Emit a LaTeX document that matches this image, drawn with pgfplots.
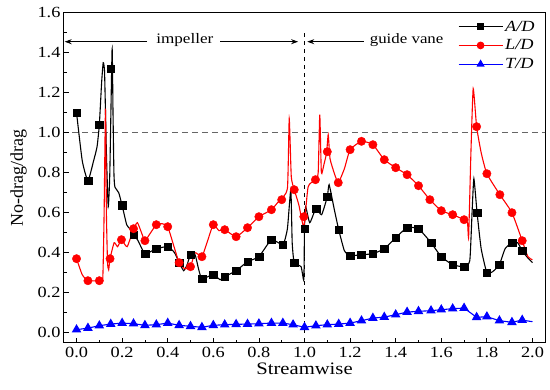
\documentclass[border=0pt]{standalone}
\usepackage{fontspec}
\setmainfont{Liberation Serif}[FakeStretch=1.18]
\newfontfamily\rotfont{Liberation Serif}
\usepackage{pgfplots}
\pgfplotsset{compat=1.18}
\usetikzlibrary{arrows.meta}
\begin{document}
\begin{tikzpicture}
\begin{axis}[
  name=ax,
  scale only axis, width=481pt, height=330pt,
  xmin=-0.055, xmax=2.055, ymin=-0.05, ymax=1.6,
  xtick={0,0.2,...,2.0}, ytick={0,0.2,...,1.6},
  minor x tick num=1, minor y tick num=1,
  xtick pos=bottom, ytick pos=left, tick align=inside,
  major tick length=5pt, minor tick length=3pt,
  axis line style={line width=1pt}, tick style={line width=0.8pt, black},
  /pgf/number format/assume math mode=true,
  /pgf/number format/fixed, /pgf/number format/fixed zerofill, /pgf/number format/precision=1,
  tick label style={font=\fontsize{15.5}{15.5}\selectfont},
  xticklabel style={yshift=-1pt},
  xlabel={Streamwise}, ylabel={\rotfont No-drag/drag},
  xlabel style={font=\fontsize{17.5}{17.5}\selectfont, yshift=2pt},
  ylabel style={font=\fontsize{18}{18}\selectfont, yshift=4pt},
  legend style={draw=none, fill=none, at={(0.985,0.985)}, anchor=north east, font=\fontsize{15.5}{15.5}\selectfont, row sep=3pt, inner sep=1pt},
  legend cell align=left,
  legend image code/.code={\draw[mark repeat=2, mark phase=2, #1] plot coordinates {(0pt,0pt) (22pt,0pt) (44pt,0pt)};},
]
% reference lines
\addplot[gray!80!black, line width=0.9pt, dash pattern=on 6pt off 4pt, forget plot] coordinates {(-0.02,1.0) (2.06,1.0)};
\addplot[black, line width=0.9pt, dash pattern=on 4pt off 4pt, forget plot] coordinates {(1.0,0.0) (1.0,1.5)};
% A/D
\addplot[black, line width=1.1pt, smooth, tension=0.3, forget plot] coordinates {
(0.00,1.10) (0.025,0.86) (0.05,0.76) (0.075,0.86) (0.09,0.93) (0.10,1.04) (0.11,1.25) (0.117,1.35) (0.123,1.30)
(0.131,0.90) (0.139,0.63) (0.146,0.80) (0.156,1.42) (0.160,1.10) (0.164,0.80) (0.168,0.73) (0.185,0.70) (0.20,0.636)
(0.22,0.54) (0.234,0.52) (0.25,0.49) (0.27,0.46) (0.30,0.395) (0.35,0.42) (0.40,0.43) (0.43,0.40) (0.45,0.35)
(0.47,0.31) (0.485,0.34) (0.50,0.39) (0.52,0.39) (0.535,0.32) (0.55,0.27) (0.60,0.29) (0.63,0.265) (0.65,0.28)
(0.70,0.31) (0.75,0.355) (0.80,0.38) (0.855,0.465) (0.905,0.44) (0.925,0.52) (0.94,0.715) (0.946,0.45) (0.955,0.35)
(0.985,0.33) (0.997,0.265) (1.0,0.52) (1.005,0.63) (1.023,0.55) (1.05,0.62) (1.075,0.59) (1.10,0.68) (1.108,0.74)
(1.13,0.62) (1.15,0.515) (1.175,0.41) (1.20,0.385) (1.25,0.39) (1.30,0.395) (1.35,0.42) (1.40,0.475)
(1.45,0.525) (1.50,0.52) (1.555,0.45) (1.60,0.38) (1.65,0.34) (1.70,0.33) (1.725,0.36) (1.735,0.60) (1.743,0.77)
(1.757,0.60) (1.775,0.42) (1.80,0.30) (1.825,0.305) (1.855,0.34) (1.88,0.42) (1.91,0.45) (1.935,0.45) (1.955,0.41)
(1.975,0.38) (2.0,0.35)};
\addplot[black, only marks, mark=square*, mark size=3.8pt, forget plot] coordinates {
(0.00,1.10) (0.05,0.76) (0.10,1.04) (0.15,1.32) (0.20,0.636) (0.25,0.49) (0.30,0.395) (0.35,0.42) (0.40,0.43)
(0.45,0.35) (0.50,0.39) (0.55,0.27) (0.60,0.29) (0.65,0.28) (0.70,0.31) (0.75,0.355) (0.80,0.38) (0.855,0.465)
(0.905,0.44) (0.955,0.35) (1.0,0.52) (1.05,0.62) (1.10,0.68) (1.15,0.515) (1.20,0.385) (1.25,0.39) (1.30,0.395)
(1.35,0.42) (1.40,0.475) (1.45,0.525) (1.50,0.52) (1.555,0.45) (1.60,0.38) (1.65,0.34) (1.70,0.33) (1.757,0.60)
(1.80,0.30) (1.855,0.34) (1.91,0.45) (1.955,0.41)};
% L/D
\addplot[red, line width=1.1pt, smooth, tension=0.3, forget plot] coordinates {
(0.00,0.37) (0.025,0.29) (0.05,0.26) (0.10,0.26) (0.115,0.27) (0.121,0.60) (0.127,1.12) (0.131,0.60) (0.136,0.35)
(0.141,0.315) (0.147,0.37) (0.165,0.45) (0.18,0.43) (0.197,0.465) (0.222,0.43) (0.25,0.52) (0.267,0.55) (0.285,0.50) (0.30,0.46)
(0.325,0.50) (0.35,0.54) (0.375,0.545) (0.40,0.53) (0.425,0.44) (0.45,0.35) (0.475,0.32) (0.50,0.33) (0.52,0.40)
(0.55,0.38) (0.575,0.46) (0.60,0.54) (0.625,0.51) (0.65,0.515) (0.70,0.48) (0.75,0.525) (0.80,0.58) (0.855,0.615)
(0.892,0.665) (0.925,0.72) (0.933,1.07) (0.942,0.78) (0.955,0.715) (0.975,0.64) (0.997,0.53) (1.016,0.73)
(1.048,0.765) (1.06,0.80) (1.067,1.09) (1.074,0.80) (1.085,0.84) (1.097,0.90) (1.104,0.99) (1.112,0.87)
(1.13,0.80) (1.148,0.75) (1.175,0.82) (1.20,0.915) (1.25,0.957) (1.30,0.94) (1.35,0.865) (1.40,0.825) (1.45,0.79)
(1.50,0.735) (1.55,0.665) (1.60,0.61) (1.65,0.59) (1.70,0.565) (1.715,0.55) (1.72,0.48) (1.73,0.90) (1.74,1.22)
(1.755,1.03) (1.775,0.90) (1.80,0.795) (1.857,0.69) (1.91,0.60) (1.955,0.46) (1.98,0.38) (2.0,0.365)};
\addplot[red, only marks, mark=*, mark size=4.2pt, forget plot] coordinates {
(0.00,0.37) (0.05,0.26) (0.10,0.26) (0.147,0.37) (0.197,0.465) (0.25,0.52) (0.30,0.46) (0.35,0.54) (0.40,0.53)
(0.45,0.35) (0.50,0.33) (0.55,0.38) (0.60,0.54) (0.65,0.515) (0.70,0.48) (0.75,0.525) (0.80,0.58) (0.855,0.615)
(0.90,0.665) (0.955,0.715) (0.997,0.58) (1.048,0.765) (1.10,0.905) (1.148,0.75) (1.20,0.915) (1.25,0.957) (1.30,0.94)
(1.35,0.865) (1.40,0.825) (1.45,0.79) (1.50,0.735) (1.55,0.665) (1.60,0.61) (1.65,0.59) (1.70,0.565) (1.755,1.03)
(1.80,0.795) (1.857,0.69) (1.91,0.60) (1.955,0.46)};
% T/D
\addplot[blue, line width=1.1pt, mark=triangle*, mark size=4.5pt, forget plot] coordinates {
(0.00,0.015) (0.05,0.023) (0.10,0.035) (0.15,0.043) (0.20,0.048) (0.25,0.045) (0.30,0.037) (0.35,0.04) (0.40,0.048)
(0.45,0.037) (0.50,0.032) (0.55,0.027) (0.60,0.037) (0.65,0.04) (0.70,0.042) (0.75,0.043) (0.80,0.045) (0.855,0.048)
(0.905,0.048) (0.95,0.04) (1.0,0.027) (1.05,0.035) (1.10,0.04) (1.15,0.043) (1.20,0.048) (1.25,0.06) (1.30,0.073)
(1.35,0.078) (1.40,0.09) (1.45,0.103) (1.50,0.107) (1.555,0.11) (1.60,0.115) (1.65,0.12) (1.70,0.123) (1.755,0.077)
(1.80,0.08) (1.855,0.06) (1.91,0.052) (1.955,0.063)};
\addplot[blue, line width=1.1pt, forget plot] coordinates {(1.955,0.063) (2.0,0.055)};
% legend
\addlegendimage{black, line width=1.1pt, mark=square*, mark size=2.8pt}
\addlegendentry{\textit{A/D}}
\addlegendimage{red, line width=1.1pt, mark=*, mark size=3.3pt}
\addlegendentry{\textit{L/D}}
\addlegendimage{blue, line width=1.1pt, mark=triangle*, mark size=3.6pt}
\addlegendentry{\textit{T/D}}
% annotations
\draw[line width=1pt, -{Stealth[length=7pt,width=5pt]}] (axis cs:0.31,1.455) -- (axis cs:-0.052,1.455);
\draw[line width=1pt, -{Stealth[length=7pt,width=5pt]}] (axis cs:0.63,1.455) -- (axis cs:0.972,1.455);
\node[font=\fontsize{14.5}{14.5}\selectfont] at (axis cs:0.475,1.462) {impeller};
\draw[line width=1pt, -{Stealth[length=7pt,width=5pt]}] (axis cs:1.26,1.455) -- (axis cs:1.012,1.455);
\node[font=\fontsize{14.3}{14.3}\selectfont] at (axis cs:1.448,1.462) {guide vane};
\end{axis}
\path (ax.south west) ++(-64pt,-47pt);
\path (ax.north east) ++(5pt,12.7pt);
\end{tikzpicture}
\end{document}
